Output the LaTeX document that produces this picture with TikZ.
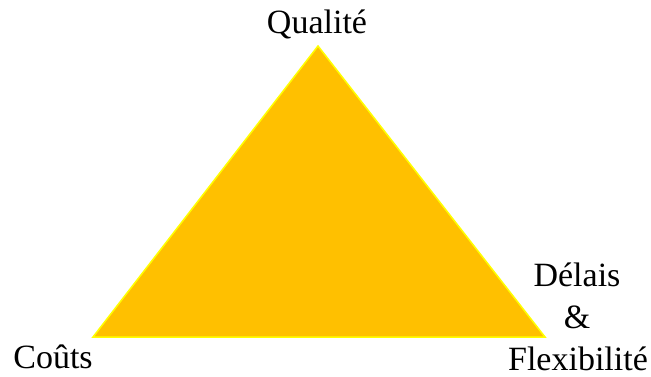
\documentclass[tikz,border=0pt]{standalone}
\usepackage{fontspec}
\setmainfont{Liberation Serif}
\begin{document}
\begin{tikzpicture}[x=1pt,y=-1pt,
  lab/.style={anchor=base,inner sep=0pt,font=\fontsize{34}{40}\selectfont}]
\useasboundingbox (0,0) rectangle (651,376);
\coordinate (A) at (318,46);
\coordinate (B) at (93,337);
\coordinate (C) at (545,337);
\fill[color={rgb,255:red,255;green,192;blue,0}] (A) -- (B) -- (C) -- cycle;
\draw[color={rgb,255:red,255;green,255;blue,0},line width=1.5pt,line join=miter] (A) -- (B) -- (C) -- cycle;
\node[lab] (q) at (317,33) {Qualité};
\node[lab] (c) at (53,368) {Coûts};
\node[lab] (d) at (577,286) {Délais};
\node[lab] (e) at (577,328) {\&};
\node[lab,text depth=0pt] (f) at (578,370) {Flexibilité};
\end{tikzpicture}
\end{document}
